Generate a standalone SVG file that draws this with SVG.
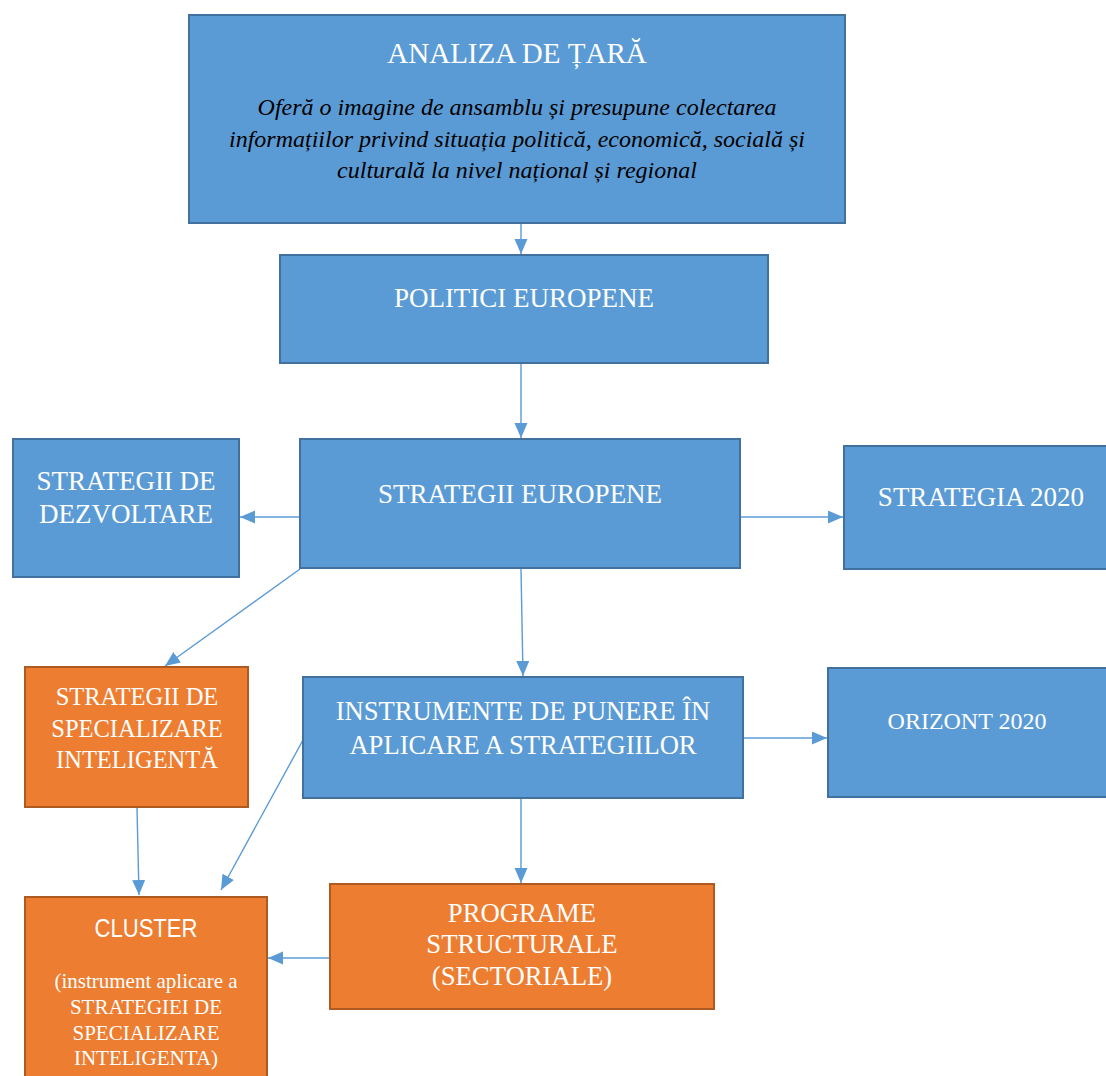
<svg xmlns="http://www.w3.org/2000/svg" width="1106" height="1076" viewBox="0 0 1106 1076">
<style>
.b{fill:#5B9BD5;stroke:#41719C;stroke-width:2}
.o{fill:#ED7D31;stroke:#AE5A21;stroke-width:2}
.t{font-family:"Liberation Serif","Times New Roman",serif;fill:#fff;text-anchor:middle}
.i{font-family:"Liberation Serif","Times New Roman",serif;font-style:italic;fill:#000;text-anchor:middle;font-size:24px}
.s{font-family:"Liberation Sans",Arial,sans-serif;fill:#fff;text-anchor:middle}
.c{stroke:#5B9BD5;stroke-width:1.4;fill:none;marker-end:url(#ah)}
</style>
<defs>
<marker id="ah" markerUnits="userSpaceOnUse" markerWidth="16" markerHeight="14" refX="15" refY="6.5" orient="auto">
<path d="M0,0 L15,6.5 L0,13 Z" fill="#5B9BD5"/>
</marker>
</defs>
<rect width="1106" height="1076" fill="#fff"/>
<g id="connectors">
<line class="c" x1="521" y1="224" x2="521" y2="254"/>
<line class="c" x1="521" y1="364" x2="521" y2="438"/>
<line class="c" x1="300" y1="517" x2="240" y2="517"/>
<line class="c" x1="741" y1="517" x2="843" y2="517"/>
<line class="c" x1="300" y1="569" x2="165" y2="666"/>
<line class="c" x1="521" y1="569" x2="523" y2="676"/>
<line class="c" x1="743" y1="738" x2="827" y2="738"/>
<line class="c" x1="137" y1="808" x2="139" y2="895"/>
<line class="c" x1="303" y1="740" x2="221" y2="890"/>
<line class="c" x1="521" y1="799" x2="521" y2="883"/>
<line class="c" x1="330" y1="958" x2="268" y2="958"/>
</g>
<g id="analiza">
<rect class="b" x="189" y="15" width="656" height="208"/>
<text class="t" x="517" y="63" font-size="29">ANALIZA DE ȚARĂ</text>
<text class="i" x="517" y="115">Oferă o imagine de ansamblu și presupune colectarea</text>
<text class="i" x="517" y="147">informațiilor privind situația politică, economică, socială și</text>
<text class="i" x="517" y="178">culturală la nivel național și regional</text>
</g>
<g id="politici">
<rect class="b" x="280" y="255" width="488" height="108"/>
<text class="t" x="524" y="307" font-size="27">POLITICI EUROPENE</text>
</g>
<g id="strategii-europene">
<rect class="b" x="300" y="439" width="440" height="129"/>
<text class="t" x="520" y="503" font-size="27">STRATEGII EUROPENE</text>
</g>
<g id="strategii-dezvoltare">
<rect class="b" x="13" y="439" width="226" height="138"/>
<text class="t" x="126" y="490" font-size="27">STRATEGII DE</text>
<text class="t" x="126" y="523" font-size="27">DEZVOLTARE</text>
</g>
<g id="strategia-2020">
<rect class="b" x="844" y="446" width="264" height="123"/>
<text class="t" x="981" y="506" font-size="27">STRATEGIA 2020</text>
</g>
<g id="specializare">
<rect class="o" x="25" y="667" width="223" height="140"/>
<text class="t" x="137" y="705" font-size="24.5">STRATEGII DE</text>
<text class="t" x="137" y="737" font-size="24.5">SPECIALIZARE</text>
<text class="t" x="137" y="768" font-size="24.5">INTELIGENTĂ</text>
</g>
<g id="instrumente">
<rect class="b" x="303" y="677" width="440" height="121"/>
<text class="t" x="523" y="720" font-size="26.6">INSTRUMENTE DE PUNERE ÎN</text>
<text class="t" x="523" y="754" font-size="26.6">APLICARE A STRATEGIILOR</text>
</g>
<g id="orizont">
<rect class="b" x="828" y="668" width="280" height="129"/>
<text class="t" x="967" y="729" font-size="24">ORIZONT 2020</text>
</g>
<g id="programe">
<rect class="o" x="330" y="884" width="384" height="125"/>
<text class="t" x="522" y="922" font-size="26.7">PROGRAME</text>
<text class="t" x="522" y="953" font-size="26.7">STRUCTURALE</text>
<text class="t" x="522" y="985" font-size="26.7">(SECTORIALE)</text>
</g>
<g id="cluster">
<rect class="o" x="25" y="897" width="242" height="185"/>
<text class="s" x="146" y="937" font-size="25" textLength="103" lengthAdjust="spacingAndGlyphs">CLUSTER</text>
<text class="t" x="146" y="988" font-size="21">(instrument aplicare a</text>
<text class="t" x="146" y="1014" font-size="21">STRATEGIEI DE</text>
<text class="t" x="146" y="1040" font-size="21">SPECIALIZARE</text>
<text class="t" x="146" y="1065" font-size="21">INTELIGENTA)</text>
</g>
</svg>
